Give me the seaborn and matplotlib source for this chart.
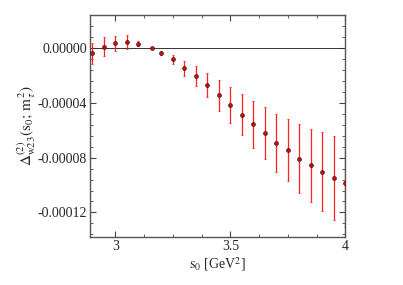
import numpy as np
import pandas as pd
import seaborn as sns
import matplotlib.pyplot as plt
from matplotlib.ticker import MultipleLocator, FormatStrFormatter

# values
s0 = [2.90, 2.95, 3.00, 3.05, 3.10, 3.157, 3.20, 3.25, 3.30, 3.35, 3.40, 3.45,
      3.50, 3.55, 3.60, 3.65, 3.70, 3.75, 3.80, 3.85, 3.90, 3.95, 4.00]
delta = [-3.9e-6, 1.0e-6, 3.6e-6, 4.4e-6, 3.1e-6, 0.0, -3.9e-6, -8.3e-6,
         -1.48e-5, -2.04e-5, -2.73e-5, -3.46e-5, -4.16e-5, -4.87e-5, -5.58e-5,
         -6.20e-5, -6.91e-5, -7.45e-5, -8.08e-5, -8.57e-5, -9.03e-5, -9.47e-5, -9.86e-5]
err = [7.5e-6, 6.8e-6, 5.5e-6, 4.9e-6, 2.0e-6, 0.0, 1.5e-6, 3.5e-6,
       5.6e-6, 7.2e-6, 8.8e-6, 1.11e-5, 1.30e-5, 1.48e-5, 1.70e-5,
       1.90e-5, 2.13e-5, 2.29e-5, 2.50e-5, 2.66e-5, 2.87e-5, 3.05e-5, 3.23e-5]

df = pd.DataFrame({"s0": s0, "delta": delta, "err": err})

sns.set_style("ticks")
plt.rcParams["font.family"] = ["Liberation Serif", "DejaVu Serif"]
plt.rcParams["mathtext.fontset"] = "stix"
plt.rcParams["axes.unicode_minus"] = False

fig = plt.figure(figsize=(4.03, 2.85), dpi=100)
ax = fig.add_axes([0.223, 0.168, 0.634, 0.779])

ax.axhline(0, color="#333333", lw=0.7, zorder=1)
ax.errorbar(df["s0"], df["delta"], yerr=df["err"], fmt="none",
            ecolor="#ff2020", elinewidth=0.9, capsize=1, capthick=0.6, zorder=2)
sns.scatterplot(data=df, x="s0", y="delta", ax=ax, color="#dd0000",
                edgecolor="#222222", linewidth=0.45, s=8, marker="o", zorder=3)

ax.set_xlim(2.889, 4.0)
ax.set_ylim(-0.000138, 0.000024)
ax.xaxis.set_major_locator(MultipleLocator(0.5))
ax.xaxis.set_minor_locator(MultipleLocator(0.125))
ax.yaxis.set_major_locator(MultipleLocator(0.00004))
ax.yaxis.set_minor_locator(MultipleLocator(0.000008))
ax.yaxis.set_major_formatter(FormatStrFormatter("%.5f"))
ax.xaxis.set_major_formatter(FormatStrFormatter("%g"))

ax.tick_params(which="both", direction="in", top=True, right=True,
               labelsize=10, color="#444444", pad=2)
ax.tick_params(which="major", length=4.5, width=0.8)
ax.tick_params(which="minor", length=2.2, width=0.6)
for sp in ax.spines.values():
    sp.set_color("#555555")
    sp.set_linewidth(1.0)

ax.set_xlabel(r"$\mathrm{s}_0$ [GeV$^2$]", fontsize=10, labelpad=2)
ax.set_ylabel(r"$\Delta^{(2)}_{\mathrm{w23}}(\mathrm{s}_0;\,\mathrm{m}_\tau^2)$",
              fontsize=11, labelpad=0)

fig.savefig("out.png", dpi=100)
